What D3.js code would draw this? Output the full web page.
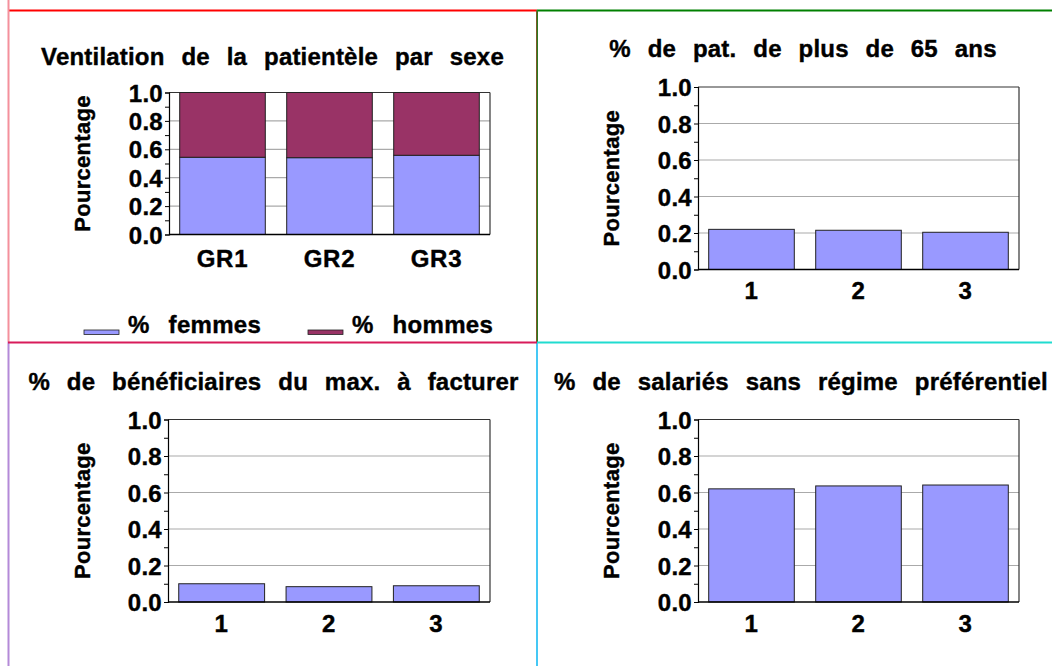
<!DOCTYPE html>
<html>
<head>
<meta charset="utf-8">
<script src="https://cdn.jsdelivr.net/npm/d3@7"></script>
<style>
  html, body { margin: 0; padding: 0; background: #fff; }
  svg text { font-family: "Liberation Sans", Arial, Helvetica, sans-serif; font-weight: bold; fill: #000;
             stroke: #000; stroke-width: 0.4px; }
</style>
</head>
<body>
<svg id="chart" width="1052" height="666"></svg>
<script>
// ---- data ----
const groupLabels = ["GR1", "GR2", "GR3"];
const femmes = [0.544, 0.541, 0.558];
const hommes = [0.456, 0.459, 0.442];
const numLabels = ["1", "2", "3"];
const plus65 = [0.220, 0.215, 0.204];
const maxFacturer = [0.100, 0.084, 0.089];
const salariesSansRegime = [0.620, 0.636, 0.641];
const yTickValues = [0, 0.2, 0.4, 0.6, 0.8, 1.0];
const minorTickValues = [0, 0.1, 0.2, 0.3, 0.4, 0.5, 0.6, 0.7, 0.8, 0.9, 1.0];
const titles = [
  "Ventilation de la patientèle par sexe",
  "% de pat. de plus de 65 ans",
  "% de bénéficiaires du max. à facturer",
  "% de salariés sans régime préférentiel"
];
const legendLabels = ["% femmes", "% hommes"];
const yLabel = "Pourcentage";

const colFemmes = "#9999ff";
const colHommes = "#993366";

const svg = d3.select("#chart");

// ---- panel borders ----
const borders = [
  {x1: 8, y1: 10.5, x2: 537, y2: 10.5, c: "#ff0000", w: 2},
  {x1: 537, y1: 10.5, x2: 1052, y2: 10.5, c: "#008000", w: 2},
  {x1: 8.5, y1: 0, x2: 8.5, y2: 342, c: "#f4909c", w: 2},
  {x1: 8.5, y1: 342, x2: 8.5, y2: 666, c: "#b48ad8", w: 2},
  {x1: 536.5, y1: 10, x2: 536.5, y2: 342, c: "#7a5a28", w: 1},
  {x1: 537.5, y1: 10, x2: 537.5, y2: 342, c: "#2a7a20", w: 1},
  {x1: 537, y1: 342, x2: 537, y2: 666, c: "#45c8f5", w: 2},
  {x1: 8, y1: 342.5, x2: 537, y2: 342.5, c: "#d81b5a", w: 2},
  {x1: 537, y1: 342.5, x2: 1052, y2: 342.5, c: "#20dcd0", w: 2}
];
svg.selectAll("line.border").data(borders).enter().append("line")
  .attr("class", "border")
  .attr("x1", d => d.x1).attr("y1", d => d.y1)
  .attr("x2", d => d.x2).attr("y2", d => d.y2)
  .attr("stroke", d => d.c).attr("stroke-width", d => d.w);

// ---- panels ----
function panel(cfg) {
  const g = svg.append("g");
  const x = d3.scaleBand().domain(cfg.cats).range([cfg.x0, cfg.x1])
    .paddingInner(0.2).paddingOuter(0.1);
  const y = d3.scaleLinear().domain([0, 1]).range([cfg.y1, cfg.y0]);

  // title
  g.append("text").attr("x", cfg.titleX).attr("y", cfg.titleY)
    .attr("text-anchor", "middle").style("font-size", "24px")
    .style("letter-spacing", "0.2px").style("word-spacing", "10px").text(cfg.title);

  // gridlines
  g.append("g").selectAll("line").data(yTickValues.filter(v => v > 0 && v < 1)).enter()
    .append("line")
    .attr("x1", cfg.x0).attr("x2", cfg.x1)
    .attr("y1", d => y(d)).attr("y2", d => y(d))
    .attr("stroke", "#aaaaaa").attr("stroke-width", 1.2);

  // frame top/right
  g.append("line").attr("x1", cfg.x0).attr("x2", cfg.x1).attr("y1", cfg.y0).attr("y2", cfg.y0)
    .attr("stroke", "#333").attr("stroke-width", 1.2);
  g.append("line").attr("x1", cfg.x1).attr("x2", cfg.x1).attr("y1", cfg.y0).attr("y2", cfg.y1)
    .attr("stroke", "#333").attr("stroke-width", 1.2);

  // bars
  cfg.series.forEach(s => {
    g.append("g").selectAll("rect").data(s.values).enter().append("rect")
      .attr("x", (d, i) => x(cfg.cats[i]))
      .attr("width", x.bandwidth())
      .attr("y", (d, i) => y(s.base ? s.base[i] + d : d))
      .attr("height", (d, i) => y(s.base ? s.base[i] : 0) - y(s.base ? s.base[i] + d : d))
      .attr("fill", s.color)
      .attr("stroke", "#222").attr("stroke-width", 1);
  });

  // y axis minor ticks
  const yMinor = d3.axisLeft(y).tickValues(minorTickValues).tickSize(4).tickFormat("");
  const ya = g.append("g").attr("transform", `translate(${cfg.x0},0)`).call(yMinor);
  ya.select(".domain").attr("stroke", "#000").attr("stroke-width", 1.2);
  ya.selectAll(".tick line").attr("stroke", "#000");

  // y tick labels
  const yMajor = d3.axisLeft(y).tickValues(yTickValues).tickSize(0).tickPadding(6)
    .tickFormat(d3.format(".1f"));
  const yl = g.append("g").attr("transform", `translate(${cfg.x0},0)`).call(yMajor);
  yl.select(".domain").remove();
  yl.selectAll("text").style("font-size", "24px").style("letter-spacing", "0.3px").attr("dy", "0.36em");

  // x axis
  const xa = g.append("g").attr("transform", `translate(0,${cfg.y1})`)
    .call(d3.axisBottom(x).tickSize(0).tickPadding(0));
  xa.select(".domain").attr("stroke", "#000").attr("stroke-width", 1.5)
    .attr("d", `M${cfg.x0},0H${cfg.x1}`);
  xa.selectAll("text").style("font-size", "24px").style("letter-spacing", "0.8px")
    .attr("y", cfg.xLabelY - cfg.y1).attr("dy", 0);

  // y label
  g.append("text")
    .attr("transform", `translate(${cfg.yLabelX},${(cfg.y0 + cfg.y1) / 2}) rotate(-90)`)
    .attr("text-anchor", "middle").style("font-size", "22px").style("letter-spacing", "0.3px").text(yLabel);
}

panel({
  title: titles[0], titleX: 272.5, titleY: 64.5,
  cats: groupLabels, x0: 169, x1: 490, y0: 92.5, y1: 234.5,
  xLabelY: 267, yLabelX: 90,
  series: [
    {values: femmes, color: colFemmes},
    {values: hommes, base: femmes, color: colHommes}
  ]
});
panel({
  title: titles[1], titleX: 803, titleY: 57,
  cats: numLabels, x0: 698, x1: 1019, y0: 87, y1: 269.5,
  xLabelY: 299, yLabelX: 619,
  series: [{values: plus65, color: colFemmes}]
});
panel({
  title: titles[2], titleX: 273.5, titleY: 390,
  cats: numLabels, x0: 168, x1: 490, y0: 419.5, y1: 602,
  xLabelY: 632, yLabelX: 90,
  series: [{values: maxFacturer, color: colFemmes}]
});
panel({
  title: titles[3], titleX: 801, titleY: 390,
  cats: numLabels, x0: 698, x1: 1019, y0: 419.5, y1: 602,
  xLabelY: 632, yLabelX: 619,
  series: [{values: salariesSansRegime, color: colFemmes}]
});

// ---- legend ----
const legendItems = [
  {label: legendLabels[0], color: colFemmes, sx: 84, tx: 128},
  {label: legendLabels[1], color: colHommes, sx: 308, tx: 352}
];
const lg = svg.append("g");
legendItems.forEach(it => {
  lg.append("rect").attr("x", it.sx).attr("y", 330).attr("width", 35).attr("height", 4.5)
    .attr("fill", it.color).attr("stroke", "#222").attr("stroke-width", 0.8);
  lg.append("text").attr("x", it.tx).attr("y", 333).style("font-size", "24px")
    .style("letter-spacing", "0.3px").style("word-spacing", "12px").text(it.label);
});
</script>
</body>
</html>
